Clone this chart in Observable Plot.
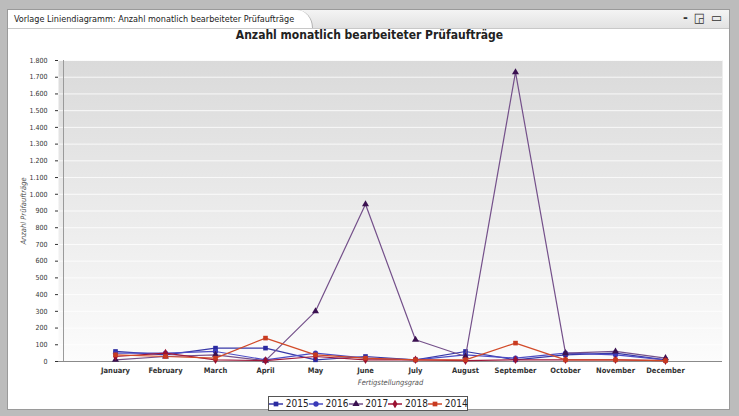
<!DOCTYPE html>
<html><head><meta charset="utf-8">
<script src="https://cdn.jsdelivr.net/npm/d3@7"></script>
<script src="https://cdn.jsdelivr.net/npm/@observablehq/plot@0.6"></script>
<style>
html,body{margin:0;padding:0;}
body{width:739px;height:416px;background:#bcbcbc;position:relative;overflow:hidden;font-family:"Liberation Sans Narrow","DejaVu Sans Condensed","Liberation Sans",sans-serif;}
#panel{position:absolute;left:7px;top:9px;width:723px;height:401px;background:#fff;border:1px solid #9a9a9a;box-sizing:border-box;}
#topbar{position:absolute;left:0;top:0;width:100%;height:18px;background:linear-gradient(#f4f4f4,#e2e2e2);border-bottom:1px solid #c8c8c8;}
#tab{position:absolute;left:0;top:0;width:305px;height:18px;background:#fff;border-right:1px solid #b0b0b0;border-top-right-radius:16px 18px;font-size:9px;line-height:19px;padding-left:6px;box-sizing:border-box;color:#222;}
#icons{position:absolute;right:6px;top:0px;font-size:13px;font-weight:bold;color:#333;letter-spacing:1px;}
#title{position:absolute;left:0;top:28px;width:739px;text-align:center;font-family:"DejaVu Sans Condensed","Liberation Sans",sans-serif;font-weight:bold;font-size:12px;color:#222;}
#chart{position:absolute;left:0;top:50px;}
#legend{position:absolute;top:396px;left:268px;width:200px;height:15px;border:1px solid #555;box-sizing:border-box;background:#fff;display:flex;align-items:center;justify-content:space-around;font-size:10px;color:#222;}
#legend span{display:flex;align-items:center;}
</style></head>
<body>
<div id="panel"><div id="topbar"></div><div id="tab">Vorlage Liniendiagramm: Anzahl monatlich bearbeiteter Prüfaufträge</div><div id="icons">- ◲ ▭</div></div>
<div id="title">Anzahl monatlich bearbeiteter Prüfaufträge</div>
<div id="chart"></div>
<div id="legend"></div>
<script>
const months = ["January","February","March","April","May","June","July","August","September","October","November","December"];
const yTicks = [0,100,200,300,400,500,600,700,800,900,1000,1100,1200,1300,1400,1500,1600,1700,1800];
const seriesNames = ["2015","2016","2017","2018","2014"];
const v2015 = [60,40,80,80,10,30,10,60,10,40,50,10];
const v2016 = [50,50,60,10,50,20,10,40,20,50,40,10];
const v2017 = [10,30,40,5,300,940,130,30,1730,50,60,20];
const v2018 = [30,50,10,5,30,10,10,5,10,10,10,5];
const v2014 = [40,30,20,140,40,20,10,10,110,10,10,5];
const colors = ["#3838a8","#4c4cc4","#74508a","#a0183a","#d24a28"];
const markColors = ["#2a2aa0","#3a3ab8","#3a1050","#9a1030","#c83a20"];
const symbols = ["square","circle","triangle","diamond","square"];

const values = [v2015,v2016,v2017,v2018,v2014];
const data = [];
seriesNames.forEach((s,i)=>values[i].forEach((v,j)=>data.push({series:s,month:months[j],value:v,idx:i})));

const locale = d3.formatLocale({decimal:",",thousands:".",grouping:[3],currency:["","€"]});
const fmt = locale.format(",d");

const defs = () => {
  const g = d3.create("svg:defs");
  const lg = g.append("linearGradient").attr("id","bg").attr("x1",0).attr("y1",0).attr("x2",0).attr("y2",1);
  lg.append("stop").attr("offset","0%").attr("stop-color","#dadada");
  lg.append("stop").attr("offset","100%").attr("stop-color","#fcfcfc");
  return g.node();
};

const marks = [defs, Plot.frame({fill:"url(#bg)", stroke:null})];
marks.push(Plot.gridY(yTicks,{stroke:"#ffffff",strokeOpacity:0.8,strokeWidth:1}));
marks.push(Plot.ruleY([0],{stroke:"#8a8a8a"}));
marks.push(Plot.ruleX([months[0]],{stroke:"#9a9a9a",dx:-52}));
seriesNames.forEach((s,i)=>{
  const d = data.filter(r=>r.series===s);
  marks.push(Plot.line(d,{x:"month",y:"value",stroke:colors[i],strokeWidth:1.2}));
  marks.push(Plot.dot(d,{x:"month",y:"value",fill:markColors[i],stroke:null,symbol:symbols[i],r:symbols[i]==="triangle"?2.6:2.6}));
});

const plot = Plot.plot({
  width:739, height:342,
  marginTop:10, marginBottom:31, marginLeft:58, marginRight:17,
  style:{fontFamily:"'DejaVu Sans Condensed','Liberation Sans',sans-serif",fontSize:"7px",color:"#333",background:"transparent"},
  x:{type:"point",domain:months,padding:1.02,label:"Fertigstellungsgrad",labelAnchor:"center",labelOffset:23,tickSize:0,tickPadding:6},
  y:{domain:[0,1800],ticks:yTicks,tickFormat:fmt,label:"Anzahl Prüfaufträge",labelAnchor:"center",labelOffset:38,tickSize:3,tickPadding:8},
  marks
});
document.getElementById("chart").appendChild(plot);
d3.select(plot).selectAll("g[aria-label='x-axis tick label'] text").style("font-weight","bold").style("font-size","7.5px");
d3.select(plot).selectAll("g[aria-label='x-axis label'] text, g[aria-label='y-axis label'] text").style("font-style","italic").style("font-size","7.5px").style("fill","#555")
  .each(function(){ this.textContent = this.textContent.replace(/\s*[↑→]\s*/g,""); });

const leg = document.getElementById("legend");
seriesNames.forEach((s,i)=>{
  const sp = document.createElement("span");
  const sym = d3.symbol().type({square:d3.symbolSquare,circle:d3.symbolCircle,triangle:d3.symbolTriangle,diamond:d3.symbolDiamond}[symbols[i]]).size(22)();
  sp.innerHTML = `<svg width="14" height="8"><line x1="0" x2="14" y1="4" y2="4" stroke="${colors[i]}" stroke-width="1.5"/><path d="${sym}" transform="translate(7,4)" fill="${markColors[i]}"/></svg>&nbsp;${s}`;
  leg.appendChild(sp);
});
</script>
</body></html>
